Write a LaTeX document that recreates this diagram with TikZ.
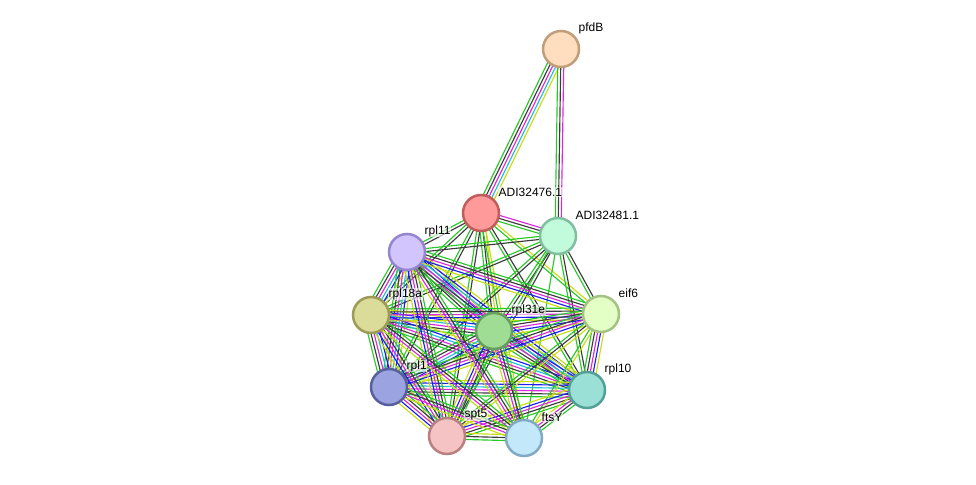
\documentclass[tikz,border=0pt]{standalone}
\usepackage{fontspec}
\setmainfont{Liberation Sans}
\usetikzlibrary{calc, backgrounds}
\usepackage{xcolor}
% evidence colours
\definecolor{nbhgreen}{RGB}{40,200,40}
\definecolor{coxgray}{RGB}{60,60,60}
\definecolor{expmag}{RGB}{220,40,220}
\definecolor{dbcyan}{RGB}{30,190,220}
\definecolor{cooblue}{RGB}{30,30,240}
\definecolor{txtyel}{RGB}{200,220,20}
% parallel evidence lines between two nodes
\newcommand{\evidence}[3]{%
  \foreach \c [count=\i] in {#3} {\xdef\nlines{\i}}%
  \foreach \c [count=\i] in {#3} {%
    \pgfmathsetmacro{\off}{(\i-(\nlines+1)/2)*3.0}%
    \draw[\c] ($(#1)!\off pt!90:(#2)$) -- ($(#2)!\off pt!-90:(#1)$);%
  }%
}

\begin{document}
\begin{tikzpicture}[
    x=1pt, y=-1pt,
    prot/.style={circle, minimum size=36pt, inner sep=0pt, line width=2.5pt},
    lbl/.style={anchor=west, inner sep=0.5pt, fill=white, fill opacity=0.6, text opacity=1, font=\fontsize{12}{14}\selectfont},
    evn/.style={nbhgreen, line width=1.15pt},
    evx/.style={coxgray, line width=1.15pt},
    eve/.style={expmag, line width=1.15pt},
    evd/.style={dbcyan, line width=1.15pt},
    evc/.style={cooblue, line width=1.15pt},
    evt/.style={txtyel, line width=1.15pt},
]
    \useasboundingbox (0,0) rectangle (976,484);

    % Proteins
    \node[prot, draw={rgb,255:red,192;green,158;blue,122}, fill={rgb,255:red,255;green,221;blue,190}] (pfdB) at (561,49) {};
    \node[prot, draw={rgb,255:red,192;green,92;blue,92}, fill={rgb,255:red,255;green,154;blue,154}] (adi76) at (481,213) {};
    \node[prot, draw={rgb,255:red,128;green,192;blue,160}, fill={rgb,255:red,194;green,251;blue,220}] (adi81) at (558,236) {};
    \node[prot, draw={rgb,255:red,149;green,133;blue,207}, fill={rgb,255:red,210;green,196;blue,252}] (rpl11) at (407,252) {};
    \node[prot, draw={rgb,255:red,156;green,156;blue,88}, fill={rgb,255:red,220;green,220;blue,154}] (rpl18a) at (371,315) {};
    \node[prot, draw={rgb,255:red,102;green,160;blue,96}, fill={rgb,255:red,160;green,221;blue,148}] (rpl31e) at (494,331) {};
    \node[prot, draw={rgb,255:red,165;green,194;blue,133}, fill={rgb,255:red,227;green,255;blue,198}] (eif6) at (601,314) {};
    \node[prot, draw={rgb,255:red,85;green,96;blue,156}, fill={rgb,255:red,155;green,164;blue,224}] (rpl1) at (389,387) {};
    \node[prot, draw={rgb,255:red,85;green,160;blue,150}, fill={rgb,255:red,154;green,224;blue,214}] (rpl10) at (587,390) {};
    \node[prot, draw={rgb,255:red,184;green,128;blue,128}, fill={rgb,255:red,245;green,195;blue,195}] (spt5) at (447,436) {};
    \node[prot, draw={rgb,255:red,130;green,170;blue,196}, fill={rgb,255:red,195;green,232;blue,250}] (ftsY) at (524,438) {};

    % Labels
    \node[lbl] (pfdBl) at ($(pfdB)+(17,-21)$) {pfdB};
    \node[lbl] (adi76l) at ($(adi76)+(17,-21)$) {ADI32476.1};
    \node[lbl] (adi81l) at ($(adi81)+(17,-21)$) {ADI32481.1};
    \node[lbl] (rpl11l) at ($(rpl11)+(17,-21)$) {rpl11};
    \node[lbl] (rpl18al) at ($(rpl18a)+(17,-21)$) {rpl18a};
    \node[lbl] (rpl31el) at ($(rpl31e)+(17,-21)$) {rpl31e};
    \node[lbl] (eif6l) at ($(eif6)+(17,-21)$) {eif6};
    \node[lbl] (rpl1l) at ($(rpl1)+(17,-21)$) {rpl1};
    \node[lbl] (rpl10l) at ($(rpl10)+(17,-21)$) {rpl10};
    \node[lbl] (spt5l) at ($(spt5)+(17,-21)$) {spt5};
    \node[lbl] (ftsYl) at ($(ftsY)+(17,-21)$) {ftsY};

    \begin{scope}[on background layer]
    % pfdB links
    \evidence{pfdB}{adi76}{evn,evx,eve,evd,evt}
    \evidence{pfdB}{adi81}{evn,evx,eve}

    % ADI32476.1 links
    \evidence{adi76}{adi81}{evn,evx,eve}
    \evidence{adi76}{rpl11}{evn,evx}
    \evidence{adi76}{rpl18a}{evn,evx}
    \evidence{adi76}{rpl31e}{evn,evx,evt}
    \evidence{adi76}{eif6}{evn,evt}
    \evidence{adi76}{rpl1}{evn,evx}
    \evidence{adi76}{rpl10}{evn,evx}
    \evidence{adi76}{spt5}{evn,evx}
    \evidence{adi76}{ftsY}{evn,evt}

    % ADI32481.1 links
    \evidence{adi81}{rpl11}{evn,evx}
    \evidence{adi81}{rpl18a}{evn,evx}
    \evidence{adi81}{rpl31e}{evn,evx}
    \evidence{adi81}{eif6}{evn,evx}
    \evidence{adi81}{rpl1}{evn,evx}
    \evidence{adi81}{rpl10}{evn,evx}
    \evidence{adi81}{spt5}{evn,evx}
    \evidence{adi81}{ftsY}{evn}

    % ribosomal proteins
    \evidence{rpl11}{rpl18a}{evn,evx,eve,evd,evc,evt}
    \evidence{rpl11}{rpl31e}{evn,evx,eve,evd,evc,evt}
    \evidence{rpl11}{rpl1}{evn,evx,eve,evd,evc,evt}
    \evidence{rpl11}{rpl10}{evn,evx,eve,evd,evc,evt}
    \evidence{rpl18a}{rpl31e}{evn,evx,eve,evd,evc,evt}
    \evidence{rpl18a}{rpl1}{evn,evx,eve,evd,evc,evt}
    \evidence{rpl18a}{rpl10}{evn,evx,eve,evd,evc,evt}
    \evidence{rpl31e}{rpl1}{evn,evx,eve,evd,evc,evt}
    \evidence{rpl31e}{rpl10}{evn,evx,eve,evd,evc,evt}
    \evidence{rpl1}{rpl10}{evn,evx,eve,evd,evc,evt}

    % eif6 links
    \evidence{eif6}{rpl11}{evn,evx,eve,evc,evt}
    \evidence{eif6}{rpl18a}{evn,evx,eve,evc,evt}
    \evidence{eif6}{rpl31e}{evn,evx,eve,evc,evt}
    \evidence{eif6}{rpl1}{evn,evx,eve,evc,evt}
    \evidence{eif6}{rpl10}{evn,evx,eve,evc,evt}
    \evidence{eif6}{spt5}{evn,evx,evt}
    \evidence{eif6}{ftsY}{evn,evt}

    % spt5 links
    \evidence{spt5}{rpl11}{evn,evx,eve,evc,evt}
    \evidence{spt5}{rpl18a}{evn,evx,eve,evc,evt}
    \evidence{spt5}{rpl31e}{evn,evx,eve,evc,evt}
    \evidence{spt5}{rpl1}{evn,evx,eve,evc,evt}
    \evidence{spt5}{rpl10}{evn,evx,eve,evc,evt}
    \evidence{spt5}{ftsY}{evn,evx,evt}

    % ftsY links
    \evidence{ftsY}{rpl11}{evn,evx,eve,evt}
    \evidence{ftsY}{rpl18a}{evn,evx,eve,evt}
    \evidence{ftsY}{rpl31e}{evn,evx,eve,evt}
    \evidence{ftsY}{rpl1}{evn,evx,eve,evt}
    \evidence{ftsY}{rpl10}{evn,evx,eve,evt}
    \end{scope}

\end{tikzpicture}
\end{document}
